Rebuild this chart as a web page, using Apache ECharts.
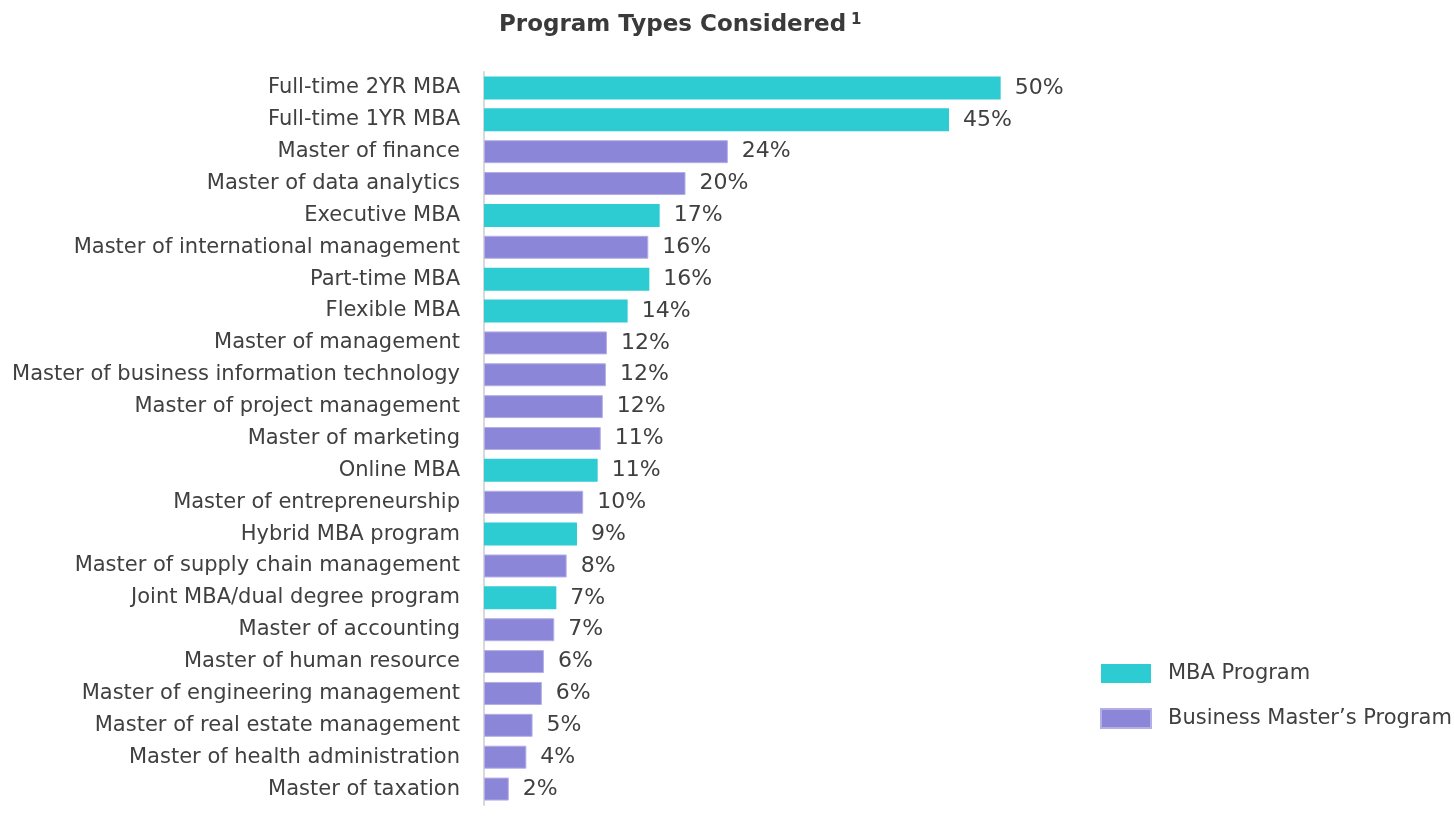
<!DOCTYPE html>
<html>
<head>
  <meta charset="utf-8">
  <title>Program Types Considered</title>
  <script src="https://cdn.jsdelivr.net/npm/echarts@6/dist/echarts.min.js"></script>
</head>
<body style="margin:0">
  <div id="main" style="width:1454px;height:828px;"></div>
  <script type="text/javascript">
    // categories, top to bottom
    var programs = [
      'Full-time 2YR MBA', 'Full-time 1YR MBA', 'Master of finance', 'Master of data analytics',
      'Executive MBA', 'Master of international management', 'Part-time MBA', 'Flexible MBA',
      'Master of management', 'Master of business information technology', 'Master of project management',
      'Master of marketing', 'Online MBA', 'Master of entrepreneurship', 'Hybrid MBA program',
      'Master of supply chain management', 'Joint MBA/dual degree program', 'Master of accounting',
      'Master of human resource', 'Master of engineering management', 'Master of real estate management',
      'Master of health administration', 'Master of taxation'
    ];
    // share of respondents (%)
    var shares = [50, 45, 23.6, 19.5, 17.0, 15.9, 16.0, 13.9, 11.9, 11.8, 11.5, 11.3, 11.0,
                  9.6, 9.0, 8.0, 7.0, 6.8, 5.8, 5.6, 4.7, 4.1, 2.4];
    // 'mba' or 'master'
    var kinds = ['mba', 'mba', 'master', 'master', 'mba', 'master', 'mba', 'mba', 'master', 'master',
                 'master', 'master', 'mba', 'master', 'mba', 'master', 'mba', 'master', 'master',
                 'master', 'master', 'master', 'master'];

    var mbaData = shares.map(function (v, i) { return kinds[i] === 'mba' ? v : null; });
    var masterData = shares.map(function (v, i) { return kinds[i] === 'master' ? v : null; });

    var labelStyle = {
      show: true,
      position: 'right',
      distance: 14,
      color: '#404040',
      fontSize: 22,
      fontFamily: 'DejaVu Sans',
      formatter: function (p) { return Math.round(p.value) + '%'; }
    };

    var myChart = echarts.init(document.getElementById('main'));
    myChart.setOption({
      backgroundColor: '#ffffff',
      animation: false,
      title: {
        text: '{t|Program Types Considered} {s|1}',
        left: 494,
        top: 8,
        textStyle: {
          rich: {
            t: { fontSize: 23, fontWeight: 'bold', color: '#3a3a3a', fontFamily: 'DejaVu Sans' },
            s: { fontSize: 15, fontWeight: 'bold', color: '#3a3a3a', fontFamily: 'DejaVu Sans', verticalAlign: 'top', padding: [0, 0, 10, 0] }
          }
        }
      },
      legend: {
        orient: 'vertical',
        left: 1095,
        top: 658,
        itemWidth: 50,
        itemHeight: 19,
        itemGap: 24,
        icon: 'rect',
        textStyle: { fontSize: 21, color: '#404040', fontFamily: 'DejaVu Sans', padding: [0, 0, 0, 12] },
        data: ['MBA Program', 'Business Master\u2019s Program']
      },
      grid: { left: 484, right: 350, top: 72, bottom: 23, containLabel: false },
      xAxis: {
        type: 'value',
        min: 0,
        max: 60,
        show: false,
        splitLine: { show: false }
      },
      yAxis: {
        type: 'category',
        inverse: true,
        data: programs,
        axisLine: { lineStyle: { color: '#d9d9d9', width: 2 } },
        axisTick: { show: false },
        axisLabel: { color: '#404040', fontSize: 21, fontFamily: 'DejaVu Sans', margin: 24 }
      },
      series: [
        {
          name: 'MBA Program',
          type: 'bar',
          stack: 'all',
          barWidth: 23,
          itemStyle: { color: '#2dccd3' },
          label: labelStyle,
          data: mbaData
        },
        {
          name: 'Business Master\u2019s Program',
          type: 'bar',
          stack: 'all',
          barWidth: 23,
          itemStyle: { color: '#8c86d9', borderColor: '#b3afe6', borderWidth: 1 },
          label: labelStyle,
          data: masterData
        }
      ]
    });
  </script>
</body>
</html>
